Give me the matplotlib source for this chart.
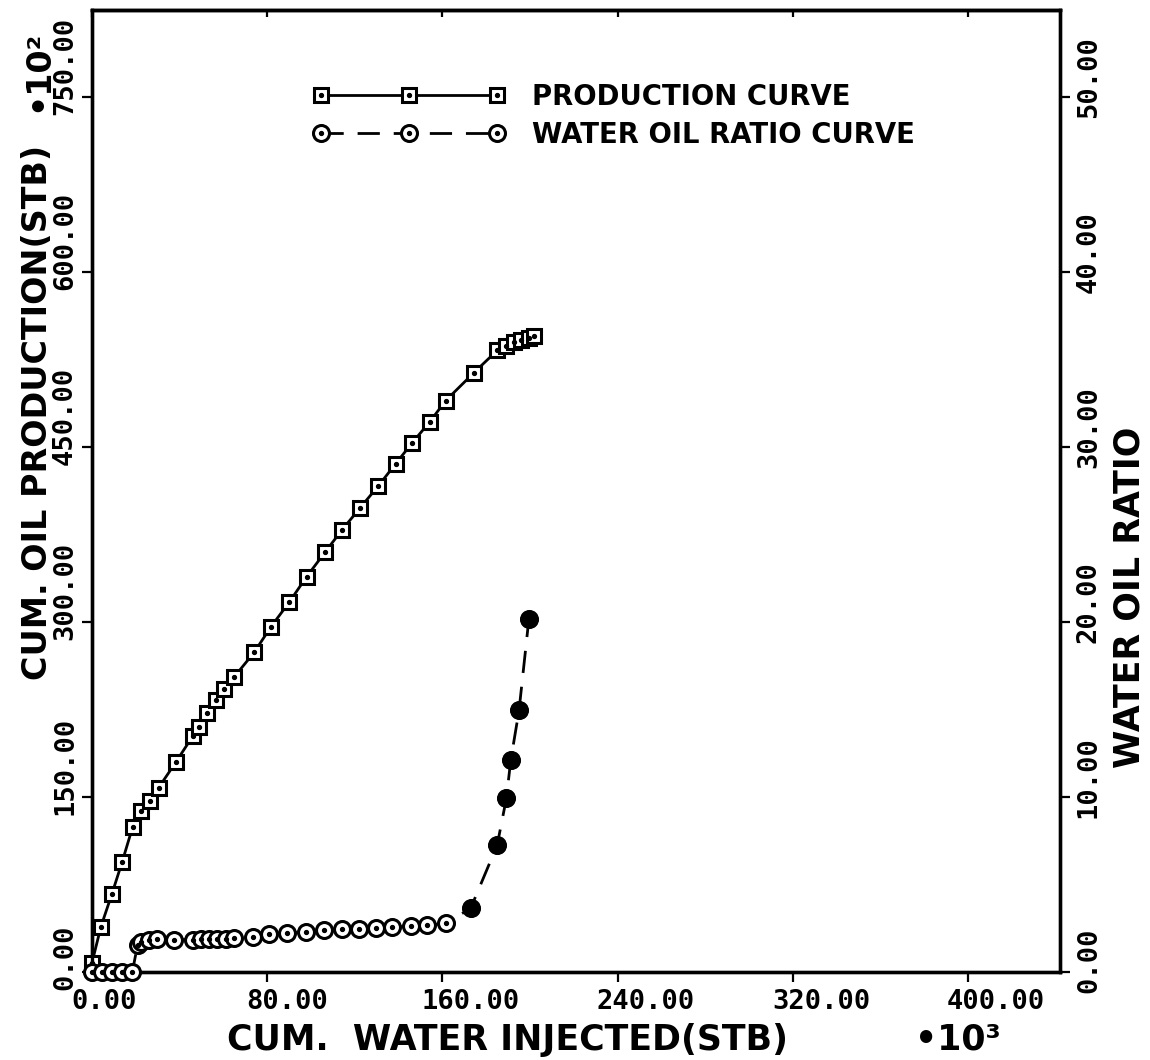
import matplotlib
matplotlib.use("Agg")
import matplotlib.pyplot as plt
from matplotlib.transforms import ScaledTranslation
from matplotlib.legend_handler import HandlerTuple

# Cumulative oil production (x1000 STB) vs cumulative water injected (x1000 STB)
prod_x = [0, 4.1, 9.1, 13.7, 18.5, 22.4, 26.5, 30.4, 38.3, 45.9, 49.0, 52.7,
          56.6, 60.4, 64.9, 74.0, 81.7, 90.0, 98.0, 106.4, 114.1, 122.4,
          130.8, 138.7, 146.3, 154.3, 161.5, 174.4, 185.0, 188.9, 192.7,
          195.7, 199.5, 201.8]
prod_y = [8, 39, 67, 94, 124, 138, 147, 158, 180, 202, 210, 222, 233, 243,
          253, 274, 296, 317, 339, 360, 379, 398, 417, 436, 454, 472, 490,
          514, 533, 537, 540, 542, 544, 545]

# Water oil ratio vs cumulative water injected (x1000 STB)
wor_x = [0, 4.7, 9.3, 13.8, 18.4, 20.8, 22.4, 26.1, 29.9, 37.5, 45.9, 49.7,
         53.5, 57.3, 61.1, 64.9, 73.3, 80.9, 89.2, 97.6, 106.0, 114.3, 122.0,
         129.6, 137.2, 145.5, 153.1, 161.5, 172.9, 185.0, 189.2, 191.2,
         195.0, 199.5]
wor_y = [0, 0, 0, 0, 0, 1.54, 1.73, 1.83, 1.87, 1.85, 1.85, 1.87, 1.89,
         1.90, 1.90, 1.93, 2.02, 2.15, 2.21, 2.30, 2.40, 2.43, 2.46, 2.50,
         2.55, 2.63, 2.68, 2.78, 3.64, 7.25, 9.92, 12.1, 14.97, 20.2]
wor_breakthrough = 28  # first point of the steep water-cut rise

x_ticks = [0, 80, 160, 240, 320, 400]
x_tick_labels = ["0.00", "80.00", "160.00", "240.00", "320.00", "400.00"]
y_ticks = [0, 150, 300, 450, 600, 750]
y_tick_labels = ["0.00", "150.00", "300.00", "450.00", "600.00", "750.00"]
wor_ticks = [0, 10, 20, 30, 40, 50]
wor_tick_labels = ["0.00", "10.00", "20.00", "30.00", "40.00", "50.00"]

W, H = 1150, 1060
fig = plt.figure(figsize=(W / 100, H / 100), dpi=100)
ax = fig.add_axes([92 / W, 1 - 972 / H, 968 / W, 962 / H])
ax2 = ax.twinx()

label_font = dict(family="DejaVu Sans", weight="bold", size=25)
ylabel_font = dict(family="DejaVu Sans", weight="bold", size=24)
tick_font = dict(family="DejaVu Sans Mono", weight="bold", size=19.5)

# production curve: open squares with a centre dot
l1, = ax.plot(prod_x, prod_y, "-", color="k", lw=2.0, marker="s", ms=10.5,
              mfc="white", mec="k", mew=2.2, clip_on=False, zorder=3)
d1, = ax.plot(prod_x, prod_y, "o", color="k", ms=2.8, ls="none",
              clip_on=False, zorder=4)

# water oil ratio curve: dashed with open circles
l2, = ax2.plot(wor_x, wor_y, color="k", lw=2.0, ls=(0, (8, 5)), marker="o",
               ms=11.5, mfc="white", mec="k", mew=2.2, clip_on=False,
               zorder=3)
d2, = ax2.plot(wor_x, wor_y, "o", color="k", ms=2.8, ls="none",
               clip_on=False, zorder=4)
ax2.plot(wor_x[wor_breakthrough:], wor_y[wor_breakthrough:], "o", ms=12,
         mfc="k", mec="k", ls="none", clip_on=False, zorder=5)

ax.set_xlim(0, 442)
ax.set_ylim(0, 825)
ax2.set_ylim(0, 55)

for a in (ax, ax2):
    for s in a.spines.values():
        s.set_linewidth(2.4)

# bottom axis
ax.set_xticks(x_ticks)
ax.set_xticklabels(x_tick_labels, ha="left", **tick_font)
ax.tick_params(axis="x", direction="out", length=7.5, width=1.6, pad=5,
               top=False)
for lab in ax.get_xticklabels():
    lab.set_transform(lab.get_transform() +
                      ScaledTranslation(-0.21, 0, fig.dpi_scale_trans))

# top ticks point inward
top = ax.secondary_xaxis("top")
top.set_xticks(x_ticks)
top.set_xticklabels([])
top.tick_params(direction="in", length=5, width=1.6)
top.spines["top"].set_linewidth(2.4)

# left axis
ax.set_yticks(y_ticks)
ax.set_yticklabels(y_tick_labels, rotation=90, va="bottom", ha="right",
                   **tick_font)
ax.tick_params(axis="y", direction="out", length=7.5, width=1.6, pad=2.5,
               right=False)
for lab in ax.get_yticklabels():
    lab.set_transform(lab.get_transform() +
                      ScaledTranslation(0, -0.18, fig.dpi_scale_trans))

# right axis
ax2.set_yticks(wor_ticks)
ax2.set_yticklabels(wor_tick_labels, rotation=90, va="bottom", ha="left",
                    **tick_font)
ax2.tick_params(axis="y", direction="out", length=7.5, width=1.6, pad=4)
for lab in ax2.get_yticklabels():
    lab.set_transform(lab.get_transform() +
                      ScaledTranslation(0, -0.21, fig.dpi_scale_trans))

# axis titles
fig.text(227 / W, 1 - 1050 / H, "CUM.  WATER INJECTED(STB)", ha="left",
         va="baseline", **label_font)
fig.text(915 / W, 1 - 1050 / H, "\u202210\u00b3", ha="left", va="baseline",
         **label_font)
fig.text(47 / W, 1 - 145 / H, "CUM. OIL PRODUCTION(STB)", rotation=90,
         rotation_mode="anchor", ha="right", va="baseline", **ylabel_font)
fig.text(47 / W, 1 - 112 / H, "\u202210\u00b2", rotation=90,
         rotation_mode="anchor", ha="left", va="baseline", **ylabel_font)
fig.text(1140 / W, 1 - 768 / H, "WATER OIL RATIO", rotation=90,
         rotation_mode="anchor", ha="left", va="baseline", **label_font)

leg = ax2.legend([(l1, d1), (l2, d2)],
                 ["PRODUCTION CURVE", "WATER OIL RATIO CURVE"],
                 handler_map={tuple: HandlerTuple(ndivide=1, pad=0)},
                 numpoints=3, frameon=False, loc="upper left",
                 bbox_to_anchor=(313 / W, 1 - 83 / H),
                 bbox_transform=fig.transFigure, borderpad=0,
                 borderaxespad=0, handlelength=7.0, handletextpad=0.95,
                 labelspacing=0.35,
                 prop=dict(family="DejaVu Sans", weight="bold", size=19.8))

fig.savefig("out.png", dpi=100)
